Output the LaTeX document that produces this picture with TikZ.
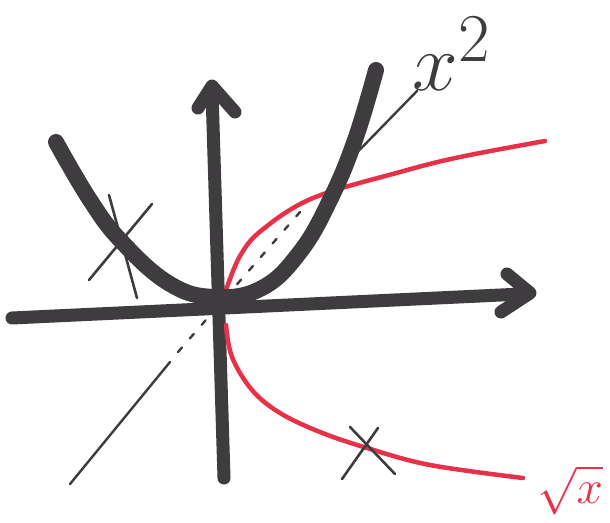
\documentclass[tikz,border=0pt]{standalone}
\usepackage{amsmath}
\usetikzlibrary{arrows}
\definecolor{penblack}{RGB}{62,60,62}
\definecolor{penred}{RGB}{232,48,72}
\tikzset{
  axe/.style={penblack,line width=13pt},
  courbe/.style={penblack,line width=16pt},
  fin/.style={penblack,line width=2.4pt},
  rouge/.style={penred,line width=4.5pt},
  croix/.style={penblack,line width=2.6pt},
  etiquette/.style={inner sep=0pt},
}
\begin{document}
\begin{tikzpicture}[line cap=round,line join=round,x=1pt,y=-1pt]
		\useasboundingbox (0,0) rectangle (610,522);
		% droite y=x
		\draw[fin] (70,484)--(170,362);
		\draw[fin,dash pattern=on 6pt off 12pt] (178,352)--(300,212);
		\draw[fin] (340,170)--(417,91);
		% axes
		\draw[axe] (12,318)--(522,294);
		\draw[axe] (224,478)--(212,92);
		\draw[axe] (507,274)--(530,293)--(501,312);
		\draw[axe] (198,108)--(212,86)--(235,112);
		% racine
		\draw[rouge] plot[smooth,tension=0.6] coordinates {(226,290) (240,256) (262,230) (313,198) (400,172) (460,157) (545,141)};
		\draw[rouge] plot[smooth,tension=0.6] coordinates {(226,325) (232,357) (252,390) (280,413) (320,432) (367,448) (430,465) (523,478)};
		% parabole
		\draw[courbe] plot[smooth,tension=0.7] coordinates {(56,142) (90,200) (122,242) (170,284) (215,297) (262,288) (300,252) (330,200) (355,140) (376,70)};
		% croix
		\draw[croix] (109,195)--(137,298);
		\draw[croix] (152,204)--(89,280);
		\draw[croix] (350,427)--(395,474);
		\draw[croix] (378,428)--(342,479);
		% etiquettes
		\node[etiquette,penblack,scale=3.3] (carre) at (452,54) {\Huge$x^{2}$};
		\node[etiquette,penred,scale=1.9] (racine) at (570,490) {\Huge$\sqrt{x}$};
\end{tikzpicture}
\end{document}
